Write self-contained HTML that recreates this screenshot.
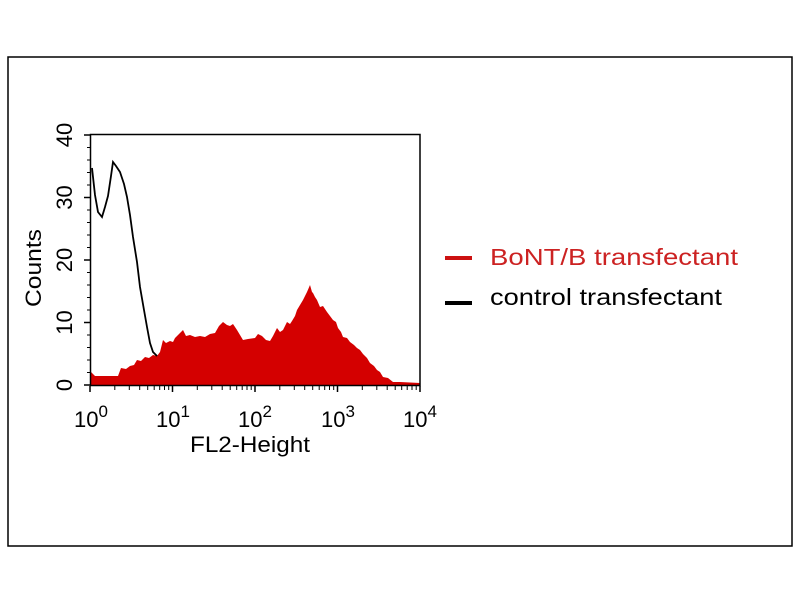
<!DOCTYPE html>
<html><head><style>
html,body{margin:0;padding:0;background:#fff;width:800px;height:600px;overflow:hidden}
</style></head><body>
<svg width="800" height="600" viewBox="0 0 800 600" xmlns="http://www.w3.org/2000/svg" font-family="Liberation Sans, sans-serif">
<rect x="8" y="57" width="784" height="489" fill="none" stroke="#000" stroke-width="1.5"/>
<polygon fill="#d40000" points="91,385 91,372 95,376 118,376 121,368 126,369 130,366 134,365 137,360 141,361 145,357 149,358 153,355 157,356 160,352 163,340 166,343 170,341 173,342 175,338 180,333 183,330 186,336 190,335 195,337 200,336 205,337 210,334 215,333 219,326 223,322 227,325 230,326 233,324 237,330 240,335 243,340 248,339 255,338 258,334 262,336 266,340 270,341 273,336 275,332 277,328 280,332 283,330 287,322 290,324 292,321 295,316 297,310 300,305 303,300 305,296 307,292 310,285 312,292 313,293 315,297 317,300 320,307 323,306 327,312 330,316 333,320 336,322 338,328 341,332 343,337 347,338 350,342 354,345 357,348 360,350 363,354 367,358 370,363 374,366 377,370 380,372 383,377 388,378 393,382 400,382 420,383 420,385"/>
<polyline fill="none" stroke="#000" stroke-width="1.8" points="92,168 95,195 98,212 102,217 105,207 108,196 111,176 113,162 116,166 120,172 124,184 127,197 130,215 133,237 137,262 140,287 144,310 147,327 150,343 153,352 157,356"/>
<rect x="90.5" y="134.5" width="329.5" height="251" fill="none" stroke="#000" stroke-width="1.5"/>
<g stroke="#000" stroke-width="1.5">
<line x1="84" y1="385" x2="90" y2="385"/><line x1="84" y1="322.5" x2="90" y2="322.5"/><line x1="84" y1="260" x2="90" y2="260"/><line x1="84" y1="197.5" x2="90" y2="197.5"/><line x1="84" y1="135" x2="90" y2="135"/>
<line x1="90" y1="392" x2="90" y2="386"/><line x1="172.5" y1="392" x2="172.5" y2="386"/><line x1="255" y1="392" x2="255" y2="386"/><line x1="337.5" y1="392" x2="337.5" y2="386"/><line x1="420" y1="392" x2="420" y2="386"/>
</g>
<g stroke="#000" stroke-width="1">
<line x1="87" y1="372.5" x2="90" y2="372.5"/><line x1="87" y1="360" x2="90" y2="360"/><line x1="87" y1="347.5" x2="90" y2="347.5"/><line x1="87" y1="335" x2="90" y2="335"/>
<line x1="87" y1="310" x2="90" y2="310"/><line x1="87" y1="297.5" x2="90" y2="297.5"/><line x1="87" y1="285" x2="90" y2="285"/><line x1="87" y1="272.5" x2="90" y2="272.5"/>
<line x1="87" y1="247.5" x2="90" y2="247.5"/><line x1="87" y1="235" x2="90" y2="235"/><line x1="87" y1="222.5" x2="90" y2="222.5"/><line x1="87" y1="210" x2="90" y2="210"/>
<line x1="87" y1="185" x2="90" y2="185"/><line x1="87" y1="172.5" x2="90" y2="172.5"/><line x1="87" y1="160" x2="90" y2="160"/><line x1="87" y1="147.5" x2="90" y2="147.5"/>
</g>
<g stroke="#000" stroke-width="1" id="minor">
<line x1="114.8" y1="386" x2="114.8" y2="390"/><line x1="129.3" y1="386" x2="129.3" y2="390"/><line x1="139.7" y1="386" x2="139.7" y2="390"/><line x1="147.7" y1="386" x2="147.7" y2="390"/><line x1="154.2" y1="386" x2="154.2" y2="390"/><line x1="159.7" y1="386" x2="159.7" y2="390"/><line x1="164.5" y1="386" x2="164.5" y2="390"/><line x1="168.7" y1="386" x2="168.7" y2="390"/>
</g>
<use href="#minor" x="82.5"/><use href="#minor" x="165"/><use href="#minor" x="247.5"/>
<g font-size="22" text-anchor="middle">
<text transform="translate(72,385) rotate(-90)">0</text>
<text transform="translate(72,322.5) rotate(-90)">10</text>
<text transform="translate(72,260) rotate(-90)">20</text>
<text transform="translate(72,197.5) rotate(-90)">30</text>
<text transform="translate(72,135) rotate(-90)">40</text>
<text transform="translate(41,268) rotate(-90)" textLength="78" lengthAdjust="spacingAndGlyphs">Counts</text>
</g>
<g font-size="22">
<text x="74" y="427">10<tspan dy="-10" font-size="17">0</tspan></text>
<text x="156" y="427">10<tspan dy="-10" font-size="17">1</tspan></text>
<text x="238" y="427">10<tspan dy="-10" font-size="17">2</tspan></text>
<text x="321" y="427">10<tspan dy="-10" font-size="17">3</tspan></text>
<text x="403" y="427">10<tspan dy="-10" font-size="17">4</tspan></text>
<text x="190" y="452" textLength="120" lengthAdjust="spacingAndGlyphs">FL2-Height</text>
</g>
<line x1="445" y1="258" x2="472" y2="258" stroke="#cc1111" stroke-width="4"/>
<text x="490" y="265" font-size="23" fill="#cc2222" textLength="248" lengthAdjust="spacingAndGlyphs">BoNT/B transfectant</text>
<line x1="445" y1="303" x2="472" y2="303" stroke="#000" stroke-width="4"/>
<text x="490" y="305" font-size="23" fill="#000" textLength="232" lengthAdjust="spacingAndGlyphs">control transfectant</text>
</svg>
</body></html>
